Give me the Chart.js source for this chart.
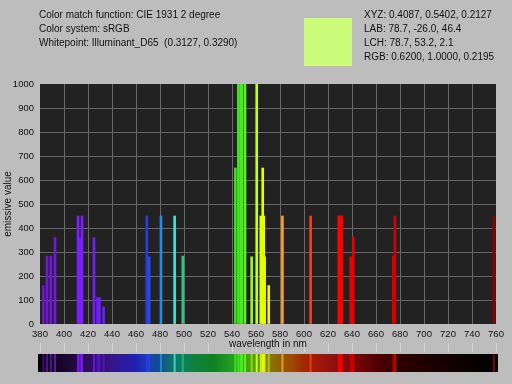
<!DOCTYPE html>
<html>
<head>
<meta charset="utf-8">
<script src="https://cdn.jsdelivr.net/npm/chart.js@4.4.1/dist/chart.umd.min.js"></script>
<style>
  html, body { margin: 0; padding: 0; background: #bdbdbd; }
  #wrap { position: relative; width: 512px; height: 384px; font-family: "Liberation Sans", Arial, sans-serif; font-size: 10px; color: #111; }
  canvas { position: absolute; left: 0; top: 0; }
  .info { position: absolute; line-height: 14px; white-space: pre; }
  #swatch { position: absolute; left: 304px; top: 18px; width: 48px; height: 48px; background: #ccfc7c; }
</style>
</head>
<body>
<div id="wrap">
  <canvas id="c" width="512" height="384"></canvas>
  <div class="info" style="left:39px; top:8px;">Color match function: CIE 1931 2 degree
Color system: sRGB
Whitepoint: Illuminant_D65  (0.3127, 0.3290)</div>
  <div id="swatch"></div>
  <div class="info" style="left:364px; top:8px;">XYZ: 0.4087, 0.5402, 0.2127
LAB: 78.7, -26.0, 46.4
LCH: 78.7, 53.2, 2.1
RGB: 0.6200, 1.0000, 0.2195</div>
</div>
<script>
// emission lines
const wavelengths = [382.8, 385.8, 389, 392.5, 411.7, 413.5, 415, 425, 428, 429.5, 433,
  469, 471, 480.8, 492.2, 499,
  542.8, 545.3, 547.2, 548.3, 550.8, 556.4, 560.6, 564, 565.6, 566.5, 567.2, 570.6,
  582, 605.5, 629, 630.3, 631.5, 639, 641, 674.4, 675.8, 758.3];
const intensities = [160, 283, 283, 360, 450, 360, 450, 360, 110, 110, 71,
  450, 280, 450, 450, 283,
  650, 1000, 1000, 1000, 1000, 280, 1000, 450, 650, 450, 280, 160,
  450, 450, 450, 450, 450, 280, 362, 283, 450, 450];

const xMin = 380, xMax = 760, xStep = 20;
const yMin = 0, yMax = 1000, yStep = 100;

// colour of a line by wavelength
const lineStops = [
  [380, [110, 20, 200]], [410, [125, 30, 255]], [430, [110, 30, 255]], [450, [50, 40, 255]],
  [469, [40, 60, 230]], [481, [40, 140, 220]], [492, [60, 230, 210]], [499, [40, 200, 130]],
  [510, [30, 220, 60]], [540, [50, 220, 30]], [548, [70, 235, 30]], [556, [140, 250, 40]],
  [561, [200, 255, 30]], [566, [230, 255, 0]], [571, [255, 240, 0]], [582, [255, 160, 40]],
  [605, [255, 60, 30]], [630, [255, 0, 0]], [640, [235, 0, 0]], [675, [210, 0, 0]], [760, [140, 0, 0]]
];
function colorFor(nm) {
  for (let i = 1; i < lineStops.length; i++) {
    const [w1, c1] = lineStops[i];
    const [w0, c0] = lineStops[i - 1];
    if (nm <= w1) {
      const t = (nm - w0) / (w1 - w0);
      const c = c0.map((v, k) => Math.round(v + (c1[k] - v) * t));
      return `rgb(${c[0]},${c[1]},${c[2]})`;
    }
  }
  return 'rgb(140,0,0)';
}

// background of the spectrum strip
const stripStops = [
  [380, '#060008'], [400, '#160626'], [420, '#300c5c'], [440, '#381486'], [460, '#2020b0'],
  [470, '#1a3cc0'], [480, '#104e90'], [490, '#107070'], [500, '#108060'], [510, '#10803a'],
  [525, '#108020'], [540, '#20a020'], [560, '#60a000'], [570, '#808000'], [580, '#906000'],
  [590, '#a04800'], [600, '#a02800'], [612, '#a01808'], [625, '#901010'], [640, '#800808'],
  [660, '#500000'], [680, '#300000'], [700, '#200000'], [740, '#080000'], [760, '#000000']
];

const plotBackground = {
  id: 'plotBackground',
  beforeDraw(chart) {
    const { ctx, chartArea: a } = chart;
    ctx.save();
    ctx.fillStyle = '#222222';
    ctx.fillRect(a.left, a.top, a.right - a.left, a.bottom - a.top);
    ctx.restore();
  }
};

const spectrumStrip = {
  id: 'spectrumStrip',
  afterDraw(chart) {
    const { ctx } = chart;
    const x = chart.scales.x;
    const x0 = x.getPixelForValue(xMin) - 2;
    const x1 = x.getPixelForValue(xMax) + 2;
    const top = 354, h = 18;
    ctx.save();
    const g = ctx.createLinearGradient(x0, 0, x1, 0);
    stripStops.forEach(([nm, col]) => g.addColorStop((nm - xMin) / (xMax - xMin), col));
    ctx.fillStyle = g;
    ctx.fillRect(x0, top, x1 - x0, h);
    wavelengths.forEach((nm, i) => {
      const px = x.getPixelForValue(nm);
      ctx.globalAlpha = Math.min(1, 0.35 + intensities[i] / 900);
      ctx.fillStyle = colorFor(nm);
      ctx.fillRect(px - 1, top, 2, h);
    });
    ctx.globalAlpha = 1;
    ctx.strokeStyle = 'rgba(255,255,255,0.35)';
    ctx.lineWidth = 1;
    for (let nm = xMin; nm <= xMax; nm += xStep) {
      const px = Math.round(x.getPixelForValue(nm)) + 0.5;
      ctx.beginPath();
      ctx.moveTo(px, 343);
      ctx.lineTo(px, 352);
      ctx.stroke();
    }
    ctx.restore();
  }
};

const gridColor = (edgeA, edgeB) => (c) =>
  (c.tick && (c.tick.value === edgeA || c.tick.value === edgeB)) ? 'rgba(0,0,0,0)' : '#686868';

const tickFont = { family: '"Liberation Sans", Arial, sans-serif', size: 9.5 };
const titleFont = { family: '"Liberation Sans", Arial, sans-serif', size: 10 };

new Chart(document.getElementById('c'), {
  type: 'bar',
  data: {
    datasets: [{
      data: wavelengths.map((w, i) => ({ x: w, y: intensities[i] })),
      backgroundColor: wavelengths.map(colorFor),
      borderWidth: 0,
      barThickness: 2
    }]
  },
  options: {
    responsive: false,
    animation: false,
    layout: { padding: { top: 84, left: 0, right: 16, bottom: 0 } },
    plugins: { legend: { display: false }, tooltip: { enabled: false } },
    scales: {
      x: {
        type: 'linear',
        min: xMin, max: xMax,
        offset: false,
        afterFit: (s) => { s.height = 60; },
        grid: { color: gridColor(xMin, xMax), drawTicks: false, offset: false },
        border: { display: false },
        ticks: { stepSize: xStep, padding: 5, color: '#111', maxRotation: 0, autoSkip: false,
          font: tickFont, callback: (v) => String(v) },
        title: { display: true, text: 'wavelength in nm', color: '#111', padding: { top: 0, bottom: 34 },
          font: titleFont }
      },
      y: {
        min: yMin, max: yMax,
        afterFit: (s) => { s.width = 40; },
        grid: { color: gridColor(yMin, yMax), drawTicks: false },
        border: { display: false },
        ticks: { stepSize: yStep, padding: 6, color: '#111', font: tickFont, callback: (v) => String(v) },
        title: { display: true, text: 'emissive value', color: '#111', padding: { top: 2, bottom: 0 },
          font: titleFont }
      }
    }
  },
  plugins: [plotBackground, spectrumStrip]
});
</script>
</body>
</html>
